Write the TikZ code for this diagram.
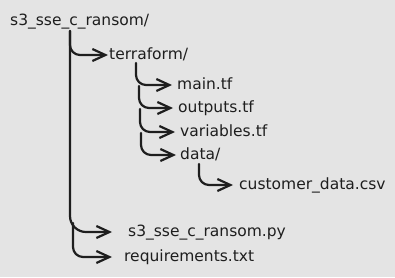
\documentclass[tikz,border=0pt]{standalone}
\usepackage{fontspec}
\setmainfont{DejaVu Sans}
\usetikzlibrary{arrows.meta}
\definecolor{bgc}{RGB}{228,228,228}
\definecolor{ink}{RGB}{30,30,30}
\tikzset{
  entry/.style={anchor=west, inner sep=0pt, text height=8.5pt, text depth=0pt,
    font=\fontsize{15.5}{18}\selectfont, text=ink},
  link/.style={->, draw=ink, line width=2.2pt, rounded corners=10pt},
}

\begin{document}
\begin{tikzpicture}[>={Straight Barb[length=13pt,width=12pt]}, line cap=round, line join=round, x=1pt, y=-1pt]
    % Background
    \fill[bgc] (0,0) rectangle (395,277);

    % Root folder and its files
    \node[entry] (root) at (10,21) {s3\_sse\_c\_ransom/};
    \node[entry] (terraform) at (109,55) {terraform/};
    \node[entry] (pyfile) at (128,232) {s3\_sse\_c\_ransom.py};
    \node[entry] (reqs) at (124,257) {requirements.txt};

    % Inside terraform/
    \node[entry] (maintf) at (177,85) {main.tf};
    \node[entry] (outputs) at (178,108) {outputs.tf};
    \node[entry] (variables) at (180,132) {variables.tf};
    \node[entry] (data) at (180,155) {data/};

    % Inside data/
    \node[entry] (customers) at (239,185) {customer\_data.csv};

    % Start points of the branches
    \coordinate (trunk) at (70,31);
    \coordinate (reqtop) at (73,223);
    \coordinate (tfa) at (136,63);
    \coordinate (tfb) at (139,86);
    \coordinate (tfc) at (140,109);
    \coordinate (tfd) at (141,133);
    \coordinate (datadown) at (199,164);

    % Root branches
    \draw[link] (trunk) |- ([xshift=-1pt]terraform.west);
    \draw[link, rounded corners=16pt] (trunk) |- ([xshift=-16pt]pyfile.west);
    \draw[link] (reqtop) |- ([xshift=-12pt]reqs.west);

    % terraform/ branches
    \draw[link] (tfa) |- ([xshift=-5pt]maintf.west);
    \draw[link] (tfb) |- ([xshift=-5pt]outputs.west);
    \draw[link] (tfc) |- ([xshift=-5pt]variables.west);
    \draw[link] (tfd) |- ([xshift=-4pt]data.west);

    % data/ branch
    \draw[link] (datadown) |- ([xshift=-6pt]customers.west);
\end{tikzpicture}
\end{document}
